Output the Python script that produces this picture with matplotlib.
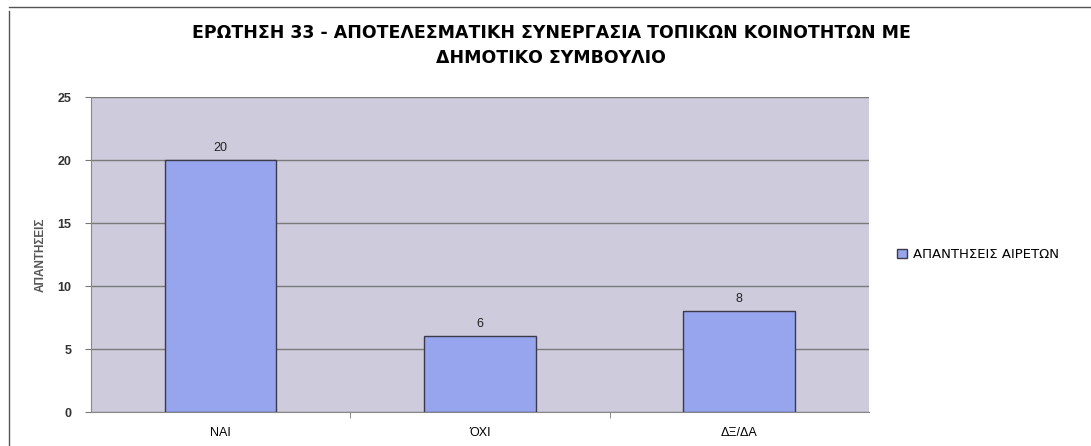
import matplotlib.pyplot as plt
from matplotlib.lines import Line2D
import numpy as np

categories = ['ΝΑΙ', 'ΌΧΙ', 'ΔΞ/ΔΑ']
answers = [20, 6, 8]
y_ticks = [0, 5, 10, 15, 20, 25]

plt.rcParams['font.family'] = ['Liberation Sans', 'DejaVu Sans']

fig = plt.figure(figsize=(10.91, 4.46), dpi=100)
ax = fig.add_axes([0.0834, 0.0762, 0.713, 0.706])

x = np.arange(len(categories))
bars = ax.bar(x, answers, width=0.43, color='#97a5ef', edgecolor='#3a3a4a',
              linewidth=1.0, zorder=3, label='ΑΠΑΝΤΗΣΕΙΣ ΑΙΡΕΤΩΝ')

for xi, v in zip(x, answers):
    ax.text(xi, v + 0.5, str(v), ha='center', va='bottom', fontsize=9, color='#222222')

ax.set_facecolor('#cdcbdc')
ax.set_xlim(-0.5, len(categories) - 0.5)
ax.set_ylim(0, 25)
ax.set_yticks(y_ticks)
ax.yaxis.grid(True, color='#7a7a7a', linewidth=1.0, zorder=1)
ax.set_axisbelow(True)

ax.set_xticks(x)
ax.set_xticklabels(categories, fontsize=9)
ax.set_xticks(np.arange(0.5, len(categories) - 0.5), minor=True)
ax.tick_params(axis='x', which='major', length=0, pad=11)
ax.tick_params(axis='x', which='minor', length=4, color='#777777')
ax.tick_params(axis='y', length=4, labelsize=9, color='#777777', pad=10)
for lbl in ax.get_yticklabels():
    lbl.set_fontweight('bold')
    lbl.set_color('#333333')

for side in ['top', 'right']:
    ax.spines[side].set_visible(False)
ax.spines['left'].set_color('#888888')
ax.spines['bottom'].set_color('#888888')

ax.set_ylabel('ΑΠΑΝΤΗΣΕΙΣ', fontsize=8.5, fontweight='bold', color='#555555', labelpad=8)

fig.text(0.505, 0.898, 'ΕΡΩΤΗΣΗ 33 - ΑΠΟΤΕΛΕΣΜΑΤΙΚΗ ΣΥΝΕΡΓΑΣΙΑ ΤΟΠΙΚΩΝ ΚΟΙΝΟΤΗΤΩΝ ΜΕ\nΔΗΜΟΤΙΚΟ ΣΥΜΒΟΥΛΙΟ',
         ha='center', va='center', fontsize=12.5, fontweight='bold', linespacing=1.45,
         family=['DejaVu Sans'])

leg = ax.legend(loc='center left', bbox_to_anchor=(1.03, 0.5), frameon=False,
                handlelength=0.7, handleheight=0.7, handletextpad=0.5, borderaxespad=0,
                prop={'family': 'DejaVu Sans', 'size': 9.5})

# outer frame lines of the scanned chart
fig.add_artist(Line2D([0.008, 0.008], [0.0, 0.975], transform=fig.transFigure,
                      color='#555555', linewidth=1.0))
fig.add_artist(Line2D([0.008, 1.0], [0.985, 0.985], transform=fig.transFigure,
                      color='#555555', linewidth=1.0))

fig.savefig('out.png', dpi=100)
